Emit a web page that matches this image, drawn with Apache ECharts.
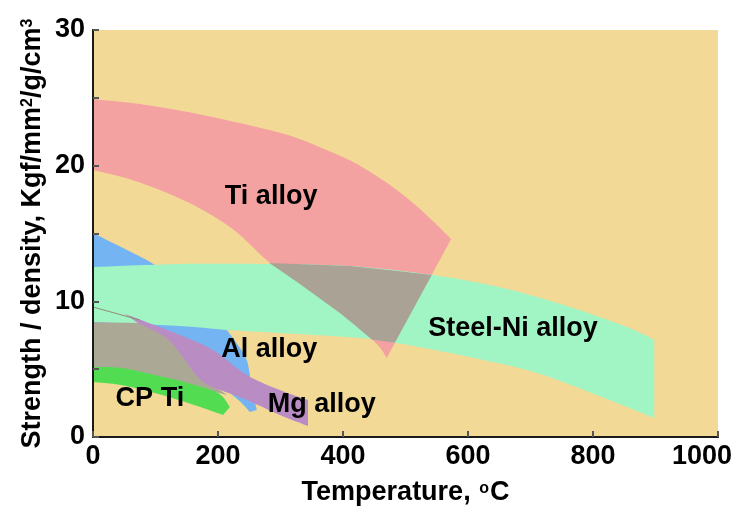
<!DOCTYPE html>
<html>
<head>
<meta charset="utf-8">
<script src="https://cdn.jsdelivr.net/npm/echarts@6/dist/echarts.min.js"></script>
<style>
  html, body { margin: 0; padding: 0; background: #ffffff; }
  #chart { width: 739px; height: 508px; }
</style>
</head>
<body>
<div id="chart"></div>
<script>
// Specific strength (strength / density) of structural alloys vs. temperature.
// Each band is an outline in data units: [temperature °C, strength/density].

const xTickValues = [0, 200, 400, 600, 800, 1000];
const yTickValues = [0, 10, 20, 30];

// Al alloy (mostly covered by the steel and Mg bands)
const alAlloyUpper = [
  [0, 15.04], [45, 14.0], [99, 12.68], [155, 10.8], [195, 9.0], [214, 7.9],
  [230, 6.9], [246, 5.68], [254, 3.69], [262, 1.99]
];
const alAlloyLower = [
  [0, 7.52], [91, 6.41], [171, 4.79], [227, 2.95], [251, 1.84]
];

// Ti alloy band
const tiAlloyUpper = [
  [0, 24.91], [75, 24.54], [152, 23.95], [235, 23.14], [312, 22.26],
  [366, 21.3], [419, 20.2], [475, 18.57], [525, 16.73], [573, 14.59]
];
const tiAlloyLower = [
  [0, 19.68], [59, 19.0], [115, 18.05], [171, 16.85], [227, 15.2],
  [280, 12.95], [331, 11.28], [395, 9.14], [451, 7.0], [470, 5.82]
];

// Steel-Ni alloy band
const steelNiUpper = [
  [0, 12.53], [139, 12.75], [280, 12.75], [411, 12.6], [544, 11.94],
  [656, 10.98], [763, 9.58], [854, 8.11], [898, 7.15]
];
const steelNiLower = [
  [0, 8.48], [139, 8.18], [214, 7.89], [299, 7.67], [427, 7.30],
  [486, 6.93], [602, 5.90], [710, 4.72], [814, 2.95], [898, 1.40]
];

// Region where the Ti alloy and Steel-Ni alloy bands overlap
const tiSteelOverlap = [
  [282, 12.82], [411, 12.6], [480, 12.28], [542, 11.95], [483, 6.95], [446, 7.18],
  [420, 8.2], [395, 9.14], [363, 10.2], [331, 11.28], [305, 12.1]
];

// Overlap zone at low temperature between Al and the lower bands
const lowTempOverlap = [
  [0, 8.45], [78, 8.4], [122, 7.37], [146, 6.19], [172, 4.5], [193, 3.76],
  [215, 3.1], [152, 3.8], [99, 4.4], [45, 4.9], [0, 5.0]
];

// Mg alloy band
const mgAlloyUpper = [
  [51, 9.07], [77, 8.62], [139, 7.52], [192, 6.41], [246, 4.57],
  [299, 3.46], [344, 2.73]
];
const mgAlloyLower = [
  [72, 8.4], [115, 7.37], [139, 6.19], [166, 4.5], [187, 3.76],
  [208, 3.39], [246, 2.73], [299, 1.62], [344, 0.81]
];

// CP Ti band
const cpTiUpper = [
  [0, 5.16], [45, 5.09], [99, 4.57], [152, 3.98], [200, 3.24], [219, 2.21]
];
const cpTiLower = [
  [0, 4.05], [45, 3.83], [99, 3.24], [152, 2.51], [208, 1.62]
];

// faint trace line at the upper left of the Mg band
const faintTrace = [[0, 9.58], [75, 8.62]];

// region labels: [x, y, text]
const regionLabels = [
  [285, 17.7, 'Ti alloy'],
  [672, 8.0, 'Steel-Ni alloy'],
  [282, 6.45, 'Al alloy'],
  [366, 2.4, 'Mg alloy'],
  [91, 2.85, 'CP Ti']
];

const FONT = '"Liberation Sans", Arial, Helvetica, sans-serif';
const INK = '#000000';

// Catmull-Rom pass over pixel points so curved edges render smoothly
function smoothPixels(pts, steps) {
  if (pts.length < 3) return pts.slice();
  const out = [];
  for (let i = 0; i < pts.length - 1; i++) {
    const p0 = pts[Math.max(i - 1, 0)], p1 = pts[i], p2 = pts[i + 1], p3 = pts[Math.min(i + 2, pts.length - 1)];
    for (let s = 0; s < steps; s++) {
      const t = s / steps, t2 = t * t, t3 = t2 * t;
      const f = function (k) {
        return 0.5 * (2 * p1[k] + (-p0[k] + p2[k]) * t +
          (2 * p0[k] - 5 * p1[k] + 4 * p2[k] - p3[k]) * t2 +
          (-p0[k] + 3 * p1[k] - 3 * p2[k] + p3[k]) * t3);
      };
      out.push([f(0), f(1)]);
    }
  }
  out.push(pts[pts.length - 1]);
  return out;
}

// edges: list of point arrays in data units, joined in order into one closed outline
function regionSeries(name, edges, color, smooth) {
  return {
    type: 'custom',
    name: name,
    coordinateSystem: 'cartesian2d',
    silent: true,
    animation: false,
    data: [edges[0][0]],
    renderItem: function (params, api) {
      let pts = [];
      edges.forEach(function (edge) {
        const px = edge.map(function (p) { return api.coord(p); });
        pts = pts.concat(smooth ? smoothPixels(px, 8) : px);
      });
      return {
        type: 'polygon',
        shape: { points: pts },
        style: { fill: color, stroke: null }
      };
    }
  };
}

function rev(a) { return a.slice().reverse(); }

const chart = echarts.init(document.getElementById('chart'), null, { renderer: 'canvas' });

const frameLine = { show: true, lineStyle: { color: '#1a1a1a', width: 2 } };
const tickStyle = { show: true, inside: true, length: 6, lineStyle: { color: '#555555', width: 2 } };

chart.setOption({
  animation: false,
  backgroundColor: '#ffffff',
  grid: {
    left: 93, right: 21, top: 30, bottom: 71,
    show: true, backgroundColor: '#F2DA96', borderWidth: 0,
    containLabel: false, outerBoundsMode: 'none'
  },
  xAxis: [
    {
      type: 'value', min: 0, max: 1000, interval: 200, z: 10,
      axisLine: frameLine,
      axisTick: tickStyle,
      splitLine: { show: false },
      axisLabel: {
        show: true, margin: 6, color: INK, fontSize: 27, fontWeight: 'bold', fontFamily: FONT,
        formatter: function (v) {
          return xTickValues.indexOf(v) === xTickValues.length - 1 ? '{e|' + v + '}' : String(v);
        },
        rich: { e: { padding: [0, 32, 0, 0], color: INK, fontSize: 27, fontWeight: 'bold', fontFamily: FONT } }
      },
      name: 'Temperature, {o|o}C',
      nameLocation: 'middle',
      nameGap: 42,
      nameMoveOverlap: false,
      nameTextStyle: {
        color: INK, fontSize: 27, fontWeight: 'bold', fontFamily: FONT,
        rich: { o: { fontSize: 16, fontWeight: 'bold', fontFamily: FONT, color: INK, verticalAlign: 'top', padding: [2, 1, 0, 1] } }
      }
    },
    {
      type: 'value', position: 'top', min: 0, max: 1000, z: 10,
      axisLine: frameLine, axisTick: { show: false }, axisLabel: { show: false }, splitLine: { show: false }
    }
  ],
  yAxis: [
    {
      type: 'value', min: 0, max: 30, interval: 5, z: 10,
      axisLine: frameLine,
      axisTick: tickStyle,
      splitLine: { show: false },
      axisLabel: {
        show: true, margin: 8, color: INK, fontSize: 27, fontWeight: 'bold', fontFamily: FONT,
        formatter: function (v) { return yTickValues.indexOf(v) >= 0 ? String(v) : ''; }
      },
      name: 'Strength / density, Kgf/mm{s|2}/g/cm{s|3}',
      nameLocation: 'middle',
      nameGap: 47,
      nameMoveOverlap: false,
      nameTextStyle: {
        color: INK, fontSize: 27, fontWeight: 'bold', fontFamily: FONT,
        rich: { s: { fontSize: 16, fontWeight: 'bold', fontFamily: FONT, color: INK, verticalAlign: 'top', padding: [1, 0, 0, 0] } }
      }
    },
    {
      type: 'value', position: 'right', min: 0, max: 30, z: 10,
      axisLine: frameLine, axisTick: { show: false }, axisLabel: { show: false }, splitLine: { show: false }
    }
  ],
  series: [
    regionSeries('Al alloy', [alAlloyUpper, rev(alAlloyLower)], '#74B4F2', true),
    regionSeries('Ti alloy', [tiAlloyUpper, rev(tiAlloyLower)], '#F4A1A1', true),
    regionSeries('Steel-Ni alloy', [steelNiUpper, rev(steelNiLower)], '#A1F4C4', true),
    regionSeries('Ti / Steel-Ni', [tiSteelOverlap], '#A9A295', false),
    regionSeries('Low temperature overlap', [lowTempOverlap], '#ABA996', false),
    regionSeries('Mg alloy', [mgAlloyUpper, rev(mgAlloyLower)], '#BA8CC4', true),
    regionSeries('CP Ti', [cpTiUpper, rev(cpTiLower)], '#52DC52', true),
    {
      type: 'line', name: 'trace', data: faintTrace, silent: true, symbol: 'none',
      lineStyle: { color: '#8f9070', width: 1 }, z: 3
    },
    {
      type: 'custom', name: 'labels', coordinateSystem: 'cartesian2d', silent: true, z: 5,
      data: regionLabels,
      renderItem: function (params, api) {
        const p = api.coord([api.value(0), api.value(1)]);
        return {
          type: 'text',
          x: p[0], y: p[1],
          style: {
            text: regionLabels[params.dataIndex][2],
            fill: INK,
            font: 'bold 27px ' + FONT,
            align: 'center',
            verticalAlign: 'middle'
          }
        };
      }
    }
  ]
});
</script>
</body>
</html>
